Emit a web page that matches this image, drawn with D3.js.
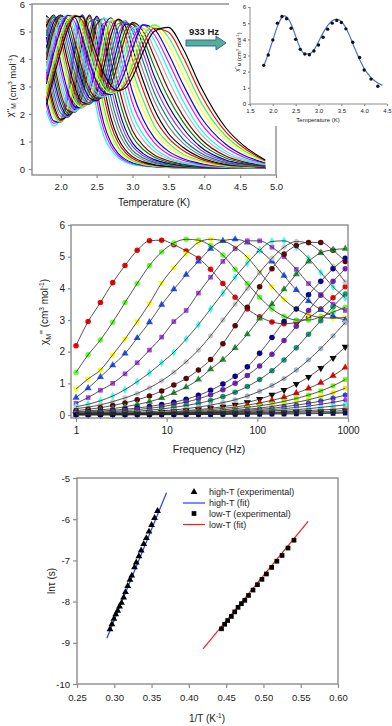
<!DOCTYPE html>
<html>
<head>
<meta charset="utf-8">
<script src="https://cdn.jsdelivr.net/npm/d3@7"></script>
<style>
  body { margin: 0; background: #fff; }
  svg { display: block; font-family: "Liberation Sans", Arial, sans-serif; }
</style>
</head>
<body>
<svg id="fig" width="392" height="726"></svg>
<script>
// ---- top-left: chi'' vs T, one curve per frequency (low f -> high f)
const tempGrid = [1.8, 1.9, 2.0, 2.1, 2.2, 2.3, 2.4, 2.5, 2.6, 2.7, 2.8, 2.9, 3.0, 3.15, 3.3, 3.5, 3.7, 3.95, 4.3, 4.55, 4.85];
const topCurves = [
  [2.12, 1.57, 1.83, 3.10, 5.15, 5.6, 3.86, 2.17, 1.2, 0.70, 0.41, 0.25, 0.16, 0.10, 0.07, 0.05, 0.04, 0.04, 0.03, 0.03, 0.03],
  [2.34, 1.66, 1.77, 2.83, 4.75, 5.6, 4.33, 2.55, 1.44, 0.83, 0.49, 0.30, 0.20, 0.12, 0.08, 0.055, 0.045, 0.04, 0.03, 0.03, 0.03],
  [2.55, 1.75, 1.70, 2.55, 4.35, 5.6, 4.79, 2.93, 1.67, 0.96, 0.57, 0.35, 0.23, 0.14, 0.09, 0.06, 0.05, 0.04, 0.03, 0.03, 0.03],
  [2.80, 1.89, 1.71, 2.36, 3.96, 5.47, 5.15, 3.40, 1.98, 1.15, 0.69, 0.42, 0.27, 0.16, 0.10, 0.065, 0.05, 0.04, 0.03, 0.03, 0.03],
  [3.04, 2.03, 1.71, 2.16, 3.56, 5.33, 5.51, 3.86, 2.28, 1.34, 0.80, 0.49, 0.31, 0.18, 0.11, 0.07, 0.05, 0.04, 0.03, 0.03, 0.03],
  [3.33, 2.20, 1.76, 2.05, 3.23, 4.97, 5.56, 4.32, 2.69, 1.60, 0.96, 0.60, 0.38, 0.22, 0.135, 0.085, 0.06, 0.045, 0.035, 0.03, 0.03],
  [3.61, 2.37, 1.81, 1.94, 2.90, 4.61, 5.6, 4.77, 3.09, 1.85, 1.12, 0.70, 0.45, 0.26, 0.16, 0.10, 0.07, 0.05, 0.04, 0.03, 0.03],
  [3.92, 2.60, 1.92, 1.91, 2.68, 4.21, 5.48, 5.12, 3.55, 2.23, 1.39, 0.88, 0.57, 0.33, 0.21, 0.13, 0.085, 0.055, 0.04, 0.03, 0.03],
  [4.22, 2.83, 2.03, 1.88, 2.46, 3.80, 5.35, 5.46, 4.01, 2.6, 1.65, 1.05, 0.68, 0.40, 0.25, 0.15, 0.10, 0.06, 0.04, 0.03, 0.03],
  [4.51, 3.11, 2.20, 1.92, 2.32, 3.47, 5.01, 5.51, 4.45, 3.0, 1.95, 1.25, 0.82, 0.48, 0.30, 0.18, 0.11, 0.065, 0.04, 0.03, 0.03],
  [4.80, 3.38, 2.36, 1.95, 2.18, 3.14, 4.67, 5.55, 4.89, 3.4, 2.25, 1.45, 0.95, 0.56, 0.35, 0.20, 0.12, 0.07, 0.04, 0.03, 0.03],
  [5.05, 3.68, 2.57, 2.04, 2.13, 2.89, 4.28, 5.4, 5.18, 3.9, 2.68, 1.78, 1.18, 0.71, 0.44, 0.25, 0.15, 0.085, 0.045, 0.035, 0.03],
  [5.29, 3.97, 2.77, 2.12, 2.07, 2.64, 3.89, 5.25, 5.47, 4.4, 3.1, 2.1, 1.4, 0.85, 0.52, 0.30, 0.18, 0.10, 0.05, 0.04, 0.03],
  [5.43, 4.28, 3.03, 2.27, 2.09, 2.50, 3.56, 4.93, 5.49, 4.8, 3.6, 2.5, 1.7, 1.05, 0.65, 0.37, 0.22, 0.12, 0.06, 0.045, 0.035],
  [5.57, 4.59, 3.29, 2.42, 2.11, 2.35, 3.23, 4.60, 5.5, 5.2, 4.1, 2.9, 2.0, 1.25, 0.78, 0.43, 0.25, 0.14, 0.07, 0.05, 0.04],
  [5.58, 4.86, 3.59, 2.62, 2.19, 2.29, 2.98, 4.22, 5.3, 5.35, 4.5, 3.35, 2.4, 1.53, 0.97, 0.54, 0.32, 0.17, 0.08, 0.055, 0.045],
  [5.58, 5.13, 3.88, 2.81, 2.26, 2.23, 2.73, 3.84, 5.10, 5.5, 4.9, 3.8, 2.8, 1.8, 1.15, 0.65, 0.38, 0.2, 0.09, 0.06, 0.05],
  [5.51, 5.3, 4.18, 3.07, 2.41, 2.24, 2.60, 3.54, 4.76, 5.44, 5.15, 4.2, 3.2, 2.15, 1.38, 0.80, 0.47, 0.25, 0.105, 0.07, 0.055],
  [5.44, 5.47, 4.47, 3.32, 2.56, 2.25, 2.46, 3.24, 4.42, 5.38, 5.4, 4.6, 3.6, 2.5, 1.6, 0.95, 0.55, 0.3, 0.12, 0.08, 0.06],
  [5.31, 5.54, 4.75, 3.61, 2.76, 2.34, 2.41, 3.02, 4.07, 5.12, 5.43, 4.9, 4.0, 2.85, 1.9, 1.13, 0.68, 0.36, 0.145, 0.095, 0.065],
  [5.18, 5.6, 5.03, 3.90, 2.95, 2.43, 2.36, 2.79, 3.71, 4.85, 5.45, 5.2, 4.4, 3.2, 2.2, 1.3, 0.8, 0.42, 0.17, 0.11, 0.07],
  [5.0, 5.56, 5.24, 4.2, 3.21, 2.59, 2.38, 2.67, 3.44, 4.51, 5.29, 5.3, 4.7, 3.55, 2.5, 1.55, 0.95, 0.50, 0.205, 0.125, 0.08],
  [4.83, 5.52, 5.44, 4.49, 3.46, 2.74, 2.40, 2.54, 3.17, 4.17, 5.13, 5.39, 5.0, 3.9, 2.8, 1.8, 1.1, 0.58, 0.24, 0.14, 0.09],
  [4.62, 5.43, 5.52, 4.77, 3.75, 2.94, 2.50, 2.51, 2.98, 3.85, 4.84, 5.33, 5.13, 4.2, 3.1, 2.05, 1.3, 0.69, 0.285, 0.165, 0.10],
  [4.41, 5.33, 5.6, 5.04, 4.04, 3.14, 2.59, 2.48, 2.79, 3.52, 4.54, 5.27, 5.26, 4.5, 3.4, 2.3, 1.5, 0.8, 0.33, 0.19, 0.11],
  [4.19, 5.17, 5.59, 5.24, 4.32, 3.40, 2.75, 2.53, 2.70, 3.29, 4.2, 5.04, 5.3, 4.75, 3.75, 2.6, 1.73, 0.95, 0.40, 0.225, 0.125],
  [3.96, 5.01, 5.57, 5.44, 4.60, 3.65, 2.91, 2.57, 2.60, 3.05, 3.86, 4.80, 5.33, 5.0, 4.1, 2.9, 1.95, 1.1, 0.47, 0.26, 0.14],
  [3.74, 4.82, 5.48, 5.52, 4.87, 3.93, 3.14, 2.69, 2.61, 2.93, 3.6, 4.47, 5.15, 5.12, 4.4, 3.25, 2.23, 1.28, 0.56, 0.31, 0.16],
  [3.52, 4.63, 5.38, 5.6, 5.14, 4.21, 3.36, 2.80, 2.62, 2.80, 3.33, 4.14, 4.97, 5.24, 4.7, 3.6, 2.5, 1.45, 0.65, 0.36, 0.18],
  [3.31, 4.41, 5.23, 5.59, 5.33, 4.50, 3.62, 2.99, 2.70, 2.75, 3.16, 3.86, 4.67, 5.24, 4.9, 3.9, 2.8, 1.68, 0.78, 0.43, 0.205],
  [3.09, 4.19, 5.07, 5.58, 5.51, 4.78, 3.88, 3.17, 2.78, 2.70, 2.98, 3.58, 4.36, 5.24, 5.1, 4.2, 3.1, 1.9, 0.9, 0.5, 0.23],
  [2.91, 3.97, 4.89, 5.49, 5.56, 5.02, 4.15, 3.40, 2.92, 2.75, 2.9, 3.38, 4.07, 5.02, 5.17, 4.5, 3.45, 2.18, 1.05, 0.59, 0.255],
  [2.72, 3.74, 4.70, 5.39, 5.6, 5.26, 4.42, 3.63, 3.06, 2.79, 2.82, 3.17, 3.78, 4.80, 5.24, 4.8, 3.8, 2.45, 1.2, 0.68, 0.28],
  [2.53, 3.52, 4.49, 5.24, 5.58, 5.40, 4.68, 3.90, 3.27, 2.91, 2.84, 3.06, 3.56, 4.54, 5.12, 4.98, 4.1, 2.73, 1.35, 0.77, 0.305],
  [2.34, 3.30, 4.27, 5.08, 5.55, 5.54, 4.94, 4.16, 3.48, 3.03, 2.85, 2.94, 3.34, 4.27, 5.0, 5.15, 4.4, 3.0, 1.5, 0.85, 0.33]
];
// line colours, counted from the highest frequency downwards
const topPalette = ["#000000", "#ff0000", "#33ff33", "#ffff00", "#0000ff", "#ff00ff", "#00ffff", "#b0b0b0",
  "#800000", "#008000", "#000080", "#9933ff", "#008080", "#808080"];

// ---- inset: 933 Hz
const insetT = [1.8, 1.9, 2.0, 2.1, 2.2, 2.3, 2.4, 2.5, 2.6, 2.7, 2.8, 2.9, 3.0, 3.1, 3.2, 3.3, 3.4, 3.5, 3.6, 3.75, 3.9, 4.0, 4.15, 4.3];
const insetChi = [2.39, 3.03, 3.96, 5.0, 5.41, 5.27, 4.69, 4.0, 3.38, 3.09, 3.05, 3.28, 3.65, 4.13, 4.63, 5.0, 5.17, 5.04, 4.65, 3.82, 2.88, 2.1, 1.54, 1.1];
const insetFitT = [1.8, 1.9, 2.0, 2.1, 2.2, 2.25, 2.3, 2.4, 2.5, 2.6, 2.7, 2.8, 2.9, 3.0, 3.1, 3.2, 3.3, 3.4, 3.5, 3.6, 3.7, 3.8, 3.9, 4.0, 4.1, 4.2, 4.3, 4.4];
const insetFitChi = [2.35, 3.1, 3.95, 4.8, 5.35, 5.45, 5.4, 4.95, 4.2, 3.45, 3.1, 3.1, 3.35, 3.85, 4.4, 4.85, 5.15, 5.25, 5.1, 4.7, 4.1, 3.4, 2.75, 2.2, 1.8, 1.5, 1.3, 1.15];

// ---- middle: chi'' vs frequency, one series per temperature
const freqHz = [1, 1.36, 1.86, 2.54, 3.47, 4.73, 6.46, 8.81, 12, 16.4, 22.4, 30.5, 41.7, 56.9, 77.6, 106, 145, 197, 269, 367, 501, 684, 933];
const freqSeries = [
  [2.19, 2.95, 3.55, 4.18, 4.72, 5.2, 5.5, 5.52, 5.38, 5.18, 4.95, 4.6, 4.15, 3.72, 3.35, 3.1, 2.94, 2.88, 2.92, 3.07, 3.35, 3.7, 4.05],
  [1.34, 1.9, 2.37, 2.93, 3.55, 4.15, 4.72, 5.15, 5.43, 5.55, 5.52, 5.35, 5.05, 4.6, 4.15, 3.72, 3.35, 3.12, 3.0, 3.0, 3.1, 3.25, 3.4],
  [0.82, 1.14, 1.42, 1.9, 2.4, 2.95, 3.52, 4.17, 4.66, 5.1, 5.45, 5.55, 5.5, 5.3, 4.98, 4.52, 4.05, 3.65, 3.35, 3.17, 3.08, 3.06, 3.08],
  [0.55, 0.85, 1.2, 1.57, 1.94, 2.43, 2.93, 3.48, 3.97, 4.43, 4.85, 5.25, 5.5, 5.55, 5.45, 5.2, 4.85, 4.4, 3.95, 3.6, 3.32, 3.12, 3.0],
  [0.37, 0.55, 0.78, 1.0, 1.3, 1.65, 2.05, 2.46, 2.95, 3.3, 3.85, 4.35, 4.85, 5.25, 5.5, 5.5, 5.3, 5.0, 4.6, 4.15, 3.8, 3.5, 3.3],
  [0.26, 0.34, 0.45, 0.6, 0.8, 1.05, 1.33, 1.65, 1.98, 2.4, 2.85, 3.35, 3.85, 4.35, 4.8, 5.2, 5.48, 5.5, 5.3, 4.95, 4.5, 4.05, 3.7],
  [0.2, 0.25, 0.32, 0.42, 0.54, 0.68, 0.86, 1.08, 1.35, 1.68, 2.05, 2.5, 3.0, 3.5, 4.0, 4.5, 4.95, 5.3, 5.48, 5.42, 5.15, 4.7, 4.2],
  [0.14, 0.18, 0.23, 0.3, 0.38, 0.48, 0.6, 0.76, 0.95, 1.15, 1.42, 1.75, 2.25, 2.82, 3.4, 4.05, 4.62, 5.08, 5.35, 5.45, 5.45, 5.2, 4.85],
  [0.1, 0.13, 0.16, 0.2, 0.26, 0.33, 0.42, 0.54, 0.7, 0.88, 1.12, 1.45, 1.75, 2.12, 2.55, 3.05, 3.5, 3.97, 4.45, 4.85, 5.12, 5.22, 5.25],
  [0.08, 0.1, 0.12, 0.15, 0.18, 0.22, 0.27, 0.33, 0.4, 0.5, 0.62, 0.78, 0.98, 1.22, 1.52, 1.95, 2.45, 2.95, 3.35, 3.8, 4.22, 4.62, 4.95],
  [0.06, 0.07, 0.09, 0.11, 0.14, 0.17, 0.21, 0.26, 0.33, 0.41, 0.51, 0.64, 0.8, 1.0, 1.25, 1.55, 1.92, 2.35, 2.8, 3.3, 3.78, 4.22, 4.62],
  [0.05, 0.06, 0.07, 0.08, 0.1, 0.12, 0.15, 0.19, 0.24, 0.3, 0.37, 0.46, 0.58, 0.72, 0.9, 1.12, 1.4, 1.74, 2.12, 2.55, 2.98, 3.42, 3.82],
  [0.03, 0.04, 0.05, 0.06, 0.07, 0.08, 0.1, 0.13, 0.16, 0.2, 0.25, 0.31, 0.39, 0.48, 0.6, 0.75, 0.93, 1.15, 1.42, 1.74, 2.1, 2.5, 2.92],
  [0.03, 0.03, 0.035, 0.04, 0.05, 0.06, 0.07, 0.09, 0.11, 0.14, 0.17, 0.21, 0.26, 0.32, 0.4, 0.5, 0.64, 0.79, 0.98, 1.2, 1.48, 1.8, 2.15],
  [0.02, 0.025, 0.03, 0.035, 0.04, 0.05, 0.06, 0.075, 0.09, 0.11, 0.14, 0.17, 0.21, 0.25, 0.31, 0.38, 0.46, 0.56, 0.69, 0.84, 1.02, 1.24, 1.5],
  [0.02, 0.02, 0.025, 0.03, 0.035, 0.04, 0.05, 0.06, 0.075, 0.09, 0.11, 0.13, 0.16, 0.2, 0.24, 0.29, 0.35, 0.43, 0.52, 0.63, 0.76, 0.92, 1.12],
  [0.015, 0.02, 0.02, 0.025, 0.03, 0.035, 0.04, 0.05, 0.06, 0.07, 0.08, 0.1, 0.12, 0.15, 0.18, 0.22, 0.27, 0.33, 0.4, 0.48, 0.58, 0.7, 0.85],
  [0.015, 0.015, 0.02, 0.02, 0.025, 0.03, 0.035, 0.04, 0.05, 0.06, 0.07, 0.085, 0.1, 0.12, 0.15, 0.18, 0.21, 0.26, 0.31, 0.37, 0.44, 0.53, 0.63],
  [0.01, 0.015, 0.015, 0.02, 0.02, 0.025, 0.03, 0.035, 0.04, 0.05, 0.06, 0.07, 0.085, 0.1, 0.12, 0.14, 0.17, 0.2, 0.24, 0.28, 0.34, 0.4, 0.47],
  [0.01, 0.01, 0.015, 0.015, 0.02, 0.02, 0.025, 0.03, 0.035, 0.04, 0.05, 0.06, 0.07, 0.08, 0.09, 0.11, 0.13, 0.15, 0.17, 0.2, 0.24, 0.28, 0.32],
  [0.01, 0.01, 0.01, 0.015, 0.015, 0.02, 0.02, 0.025, 0.03, 0.035, 0.04, 0.045, 0.05, 0.06, 0.07, 0.08, 0.09, 0.1, 0.12, 0.14, 0.16, 0.18, 0.21],
  [0.01, 0.01, 0.01, 0.01, 0.01, 0.015, 0.015, 0.02, 0.02, 0.025, 0.03, 0.035, 0.04, 0.045, 0.05, 0.06, 0.07, 0.08, 0.09, 0.1, 0.11, 0.12, 0.14],
  [0.01, 0.01, 0.01, 0.01, 0.01, 0.01, 0.01, 0.015, 0.015, 0.02, 0.02, 0.025, 0.03, 0.03, 0.035, 0.04, 0.045, 0.05, 0.06, 0.065, 0.07, 0.08, 0.09],
  [0.01, 0.01, 0.01, 0.01, 0.01, 0.01, 0.01, 0.01, 0.01, 0.01, 0.015, 0.015, 0.02, 0.02, 0.02, 0.025, 0.03, 0.03, 0.035, 0.04, 0.045, 0.05, 0.06]
];
const seriesColor = ["#ff0000", "#66ff33", "#ffff00", "#2255ff", "#aa44ee", "#44ffee", "#c8ccd0", "#660000",
  "#229933", "#000099", "#7722cc", "#119977", "#a8b8c8", "#000000", "#ff0000", "#66ff00",
  "#eeee00", "#3344ff", "#aa44ff", "#44ffff", "#b0b0b0", "#660000", "#008800", "#000080"];
const seriesShape = ["circle", "circle", "tdown", "tup", "square", "diamond", "hex", "circle",
  "tup", "circle", "circle", "circle", "hex", "tdown", "tup", "square",
  "square", "hex", "diamond", "circle", "circle", "tdown", "circle", "square"];

// ---- bottom: Arrhenius plot
const highInvT = [0.2942, 0.2968, 0.2995, 0.302, 0.3045, 0.307, 0.3097, 0.3125, 0.315, 0.318, 0.321, 0.3235, 0.327, 0.3295, 0.333, 0.336, 0.3395, 0.343, 0.3465, 0.35, 0.354, 0.358];
const highLnTau = [-8.67, -8.55, -8.42, -8.31, -8.22, -8.12, -8.03, -7.90, -7.77, -7.62, -7.47, -7.37, -7.17, -7.05, -6.90, -6.76, -6.60, -6.46, -6.30, -6.14, -5.97, -5.80];
const lowInvT = [0.4438, 0.448, 0.452, 0.457, 0.4615, 0.466, 0.4705, 0.475, 0.48, 0.486, 0.492, 0.498, 0.504, 0.511, 0.518, 0.525, 0.533, 0.541];
const lowLnTau = [-8.66, -8.55, -8.46, -8.36, -8.25, -8.14, -8.05, -7.97, -7.85, -7.72, -7.59, -7.46, -7.33, -7.17, -7.02, -6.88, -6.70, -6.51];
const highFitX = [0.29, 0.37], highFitY = [-8.89, -5.36];
const lowFitX = [0.419, 0.56], lowFitY = [-9.15, -6.05];
const legendLabels = ["high-T (experimental)", "high-T (fit)", "low-T (experimental)", "low-T (fit)"];

const svg = d3.select("#fig");
const grey = "#8c8c8c";
const ink = "#1a1a1a";

function frame(g, x0, y0, x1, y1) {
  g.append("rect").attr("x", x0).attr("y", y0).attr("width", x1 - x0).attr("height", y1 - y0)
    .attr("fill", "none").attr("stroke", grey).attr("stroke-width", 1.4);
}

function styleAxis(ax, fs) {
  ax.select(".domain").remove();
  ax.selectAll(".tick line").attr("stroke", grey).attr("stroke-width", 1.2);
  ax.selectAll(".tick text").attr("fill", ink).style("font-size", fs + "px").style("font-family", "Liberation Sans, Arial, sans-serif");
}

function unitTail(t, fs) {
  t.append("tspan").text(" (cm");
  t.append("tspan").attr("dy", -fs * 0.38).attr("font-size", fs * 0.65).text("3");
  t.append("tspan").attr("dy", fs * 0.38).text(" mol");
  t.append("tspan").attr("dy", -fs * 0.38).attr("font-size", fs * 0.65).text("-1");
  t.append("tspan").attr("dy", fs * 0.38).text(")");
}

function chiTitle(g, x, y, fs, primesFirst) {
  const t = g.append("text").attr("transform", `translate(${x},${y}) rotate(-90)`)
    .attr("text-anchor", "middle").attr("font-size", fs).attr("fill", ink);
  if (primesFirst) {
    t.append("tspan").text("\u03c7''");
    t.append("tspan").attr("dy", fs * 0.3).attr("font-size", fs * 0.7).text("M");
    t.append("tspan").attr("dy", -fs * 0.3).text("");
  } else {
    t.append("tspan").text("\u03c7");
    t.append("tspan").attr("dy", fs * 0.3).attr("font-size", fs * 0.7).text("M");
    t.append("tspan").attr("dy", -fs * 0.3).text("''");
  }
  unitTail(t, fs);
}

const hexType = {
  draw(ctx, size) {
    const r = Math.sqrt(size / (1.5 * Math.sqrt(3)));
    for (let i = 0; i < 6; i++) {
      const a = Math.PI / 3 * i + Math.PI / 6;
      if (i === 0) ctx.moveTo(r * Math.cos(a), r * Math.sin(a));
      else ctx.lineTo(r * Math.cos(a), r * Math.sin(a));
    }
    ctx.closePath();
  }
};
const shapeTypes = { circle: d3.symbolCircle, tup: d3.symbolTriangle, tdown: d3.symbolTriangle,
  square: d3.symbolSquare, diamond: d3.symbolDiamond, hex: hexType };

// ================= top-left panel =================
const xT = d3.scaleLinear().domain([1.6, 5.0]).range([32, 276]);
const yT = d3.scaleLinear().domain([0, 6]).range([169, 4]);
const gT = svg.append("g");
const lineT = d3.line().x((d, i) => xT(tempGrid[i])).y(d => yT(d)).curve(d3.curveMonotoneX);
const nTop = topCurves.length;
gT.selectAll("path.tc").data(topCurves).join("path").attr("class", "tc")
  .attr("d", lineT).attr("fill", "none")
  .attr("stroke", (d, i) => topPalette[(nTop - 1 - i) % topPalette.length]).attr("stroke-width", 1.15);
frame(gT, 32, 4, 276, 175);
styleAxis(gT.append("g").attr("transform", "translate(0,175)")
  .call(d3.axisBottom(xT).tickValues([2, 2.5, 3, 3.5, 4, 4.5, 5]).tickFormat(d3.format(".1f")).tickSize(3).tickPadding(5.5)), 9.5);
styleAxis(gT.append("g").attr("transform", "translate(32,0)")
  .call(d3.axisLeft(yT).tickValues([0, 1, 2, 3, 4, 5, 6]).tickFormat(d => String(d)).tickSize(3).tickPadding(4)), 9.5);
gT.append("text").attr("x", 154).attr("y", 206).attr("text-anchor", "middle")
  .attr("font-size", 10).attr("fill", ink).text("Temperature (K)");
chiTitle(gT, 13, 86, 9.5, true);

// arrow and label
gT.append("path")
  .attr("d", "M186,40 L216,40 L216,36 L226,43 L216,50 L216,46 L186,46 Z")
  .attr("fill", "#55ae8c").attr("stroke", "#2f62c8").attr("stroke-width", 1);
gT.append("text").attr("x", 204).attr("y", 35).attr("text-anchor", "middle")
  .attr("font-size", 9.5).attr("font-weight", "bold").attr("fill", ink).text("933 Hz");

// ================= inset =================
const gI = svg.append("g");
gI.append("rect").attr("x", 229).attr("y", 0).attr("width", 163).attr("height", 126).attr("fill", "#fff");
const xI = d3.scaleLinear().domain([1.5, 4.5]).range([250, 387]);
const yI = d3.scaleLinear().domain([0, 6]).range([104, 7]);
gI.append("line").attr("x1", 250).attr("x2", 250).attr("y1", 7).attr("y2", 104).attr("stroke", grey).attr("stroke-width", 1);
gI.append("line").attr("x1", 250).attr("x2", 387).attr("y1", 104).attr("y2", 104).attr("stroke", grey).attr("stroke-width", 1);
styleAxis(gI.append("g").attr("transform", "translate(0,104)")
  .call(d3.axisBottom(xI).tickValues([1.5, 2, 2.5, 3, 3.5, 4, 4.5]).tickFormat(d3.format(".1f")).tickSize(2).tickPadding(3)), 6);
styleAxis(gI.append("g").attr("transform", "translate(250,0)")
  .call(d3.axisLeft(yI).tickValues([0, 1, 2, 3, 4, 5, 6]).tickFormat(d => String(d)).tickSize(2).tickPadding(2)), 6);
gI.append("path").datum(insetFitChi)
  .attr("d", d3.line().x((d, i) => xI(insetFitT[i])).y(d => yI(d)).curve(d3.curveMonotoneX))
  .attr("fill", "none").attr("stroke", "#4a6fd6").attr("stroke-width", 1.2);
gI.selectAll("circle.ip").data(insetChi).join("circle").attr("class", "ip")
  .attr("cx", (d, i) => xI(insetT[i])).attr("cy", d => yI(d)).attr("r", 1.7).attr("fill", "#111");
gI.append("text").attr("x", 318).attr("y", 122).attr("text-anchor", "middle")
  .attr("font-size", 6).attr("fill", ink).text("Temperature (K)");
chiTitle(gI, 239, 52, 6, true);

// ================= middle panel =================
const xM = d3.scaleLog().domain([1, 1000]).range([76, 348]);
const yM = d3.scaleLinear().domain([0, 6]).range([415, 225]);
const gM = svg.append("g");
const symM = seriesShape.map(s => d3.symbol().type(shapeTypes[s]).size(s === "circle" ? 24 : 22)());
freqSeries.forEach((vals, si) => {
  gM.append("g").selectAll("path").data(vals).join("path")
    .attr("d", symM[si])
    .attr("transform", (d, i) => `translate(${xM(freqHz[i])},${yM(d)})` + (seriesShape[si] === "tdown" ? " rotate(180)" : ""))
    .attr("fill", seriesColor[si]);
});
const lineM = d3.line().x((d, i) => xM(freqHz[i])).y(d => yM(d)).curve(d3.curveMonotoneX);
gM.selectAll("path.fit").data(freqSeries).join("path").attr("class", "fit")
  .attr("d", lineM).attr("fill", "none").attr("stroke", "#2a2a2a").attr("stroke-width", 0.8);
frame(gM, 71, 225, 348, 418);
styleAxis(gM.append("g").attr("transform", "translate(0,418)")
  .call(d3.axisBottom(xM).tickValues([1, 10, 100, 1000]).tickFormat(d3.format("d")).tickSize(4).tickPadding(5)), 10);
styleAxis(gM.append("g").attr("transform", "translate(71,0)")
  .call(d3.axisLeft(yM).tickValues([0, 1, 2, 3, 4, 5, 6]).tickFormat(d => String(d)).tickSize(3).tickPadding(3)), 10);
gM.append("text").attr("x", 209).attr("y", 453).attr("text-anchor", "middle")
  .attr("font-size", 10.5).attr("fill", ink).text("Frequency (Hz)");
chiTitle(gM, 48, 312, 10, false);

// ================= bottom panel =================
const xB = d3.scaleLinear().domain([0.25, 0.6]).range([77, 338]);
const yB = d3.scaleLinear().domain([-10, -5]).range([684, 478]);
const gB = svg.append("g");
frame(gB, 77, 478, 338, 684);
styleAxis(gB.append("g").attr("transform", "translate(0,684)")
  .call(d3.axisBottom(xB).tickValues([0.25, 0.3, 0.35, 0.4, 0.45, 0.5, 0.55, 0.6]).tickFormat(d3.format(".2f")).tickSize(4).tickPadding(6)), 9.5);
styleAxis(gB.append("g").attr("transform", "translate(77,0)")
  .call(d3.axisLeft(yB).tickValues([-10, -9, -8, -7, -6, -5]).tickFormat(d => String(d)).tickSize(4).tickPadding(3)), 9.5);
const lineB = d3.line().x(d => xB(d[0])).y(d => yB(d[1]));
gB.append("path").datum(highFitX.map((x, i) => [x, highFitY[i]])).attr("d", lineB)
  .attr("stroke", "#1f3fff").attr("stroke-width", 1.2).attr("fill", "none");
gB.append("path").datum(lowFitX.map((x, i) => [x, lowFitY[i]])).attr("d", lineB)
  .attr("stroke", "#ff1a1a").attr("stroke-width", 1.2).attr("fill", "none");
const triSym = d3.symbol().type(d3.symbolTriangle).size(20)();
const sqSym = d3.symbol().type(d3.symbolSquare).size(22)();
gB.selectAll("path.hp").data(highLnTau).join("path").attr("class", "hp")
  .attr("d", triSym).attr("transform", (d, i) => `translate(${xB(highInvT[i])},${yB(d)})`).attr("fill", "#000");
gB.selectAll("path.lp").data(lowLnTau).join("path").attr("class", "lp")
  .attr("d", sqSym).attr("transform", (d, i) => `translate(${xB(lowInvT[i])},${yB(d)})`).attr("fill", "#000");

// legend
const legY = [492, 503, 513.5, 524.5];
legendLabels.forEach((lab, i) => {
  const y = legY[i];
  if (i === 0) gB.append("path").attr("d", triSym).attr("transform", `translate(194,${y})`).attr("fill", "#000");
  if (i === 2) gB.append("path").attr("d", sqSym).attr("transform", `translate(194,${y})`).attr("fill", "#000");
  if (i === 1 || i === 3) gB.append("line").attr("x1", 183).attr("x2", 205).attr("y1", y).attr("y2", y)
    .attr("stroke", i === 1 ? "#1f3fff" : "#ff1a1a").attr("stroke-width", 1.2);
  gB.append("text").attr("x", 209).attr("y", y + 3.3).attr("font-size", 9).attr("fill", ink).text(lab);
});

const xt = gB.append("text").attr("x", 207).attr("y", 722).attr("text-anchor", "middle").attr("font-size", 10).attr("fill", ink);
xt.append("tspan").text("1/T (K");
xt.append("tspan").attr("dy", -3.8).attr("font-size", 6.5).text("-1");
xt.append("tspan").attr("dy", 3.8).text(")");
gB.append("text").attr("transform", "translate(55,581) rotate(-90)").attr("text-anchor", "middle")
  .attr("font-size", 10).attr("fill", ink).text("ln\u03c4 (s)");
</script>
</body>
</html>
